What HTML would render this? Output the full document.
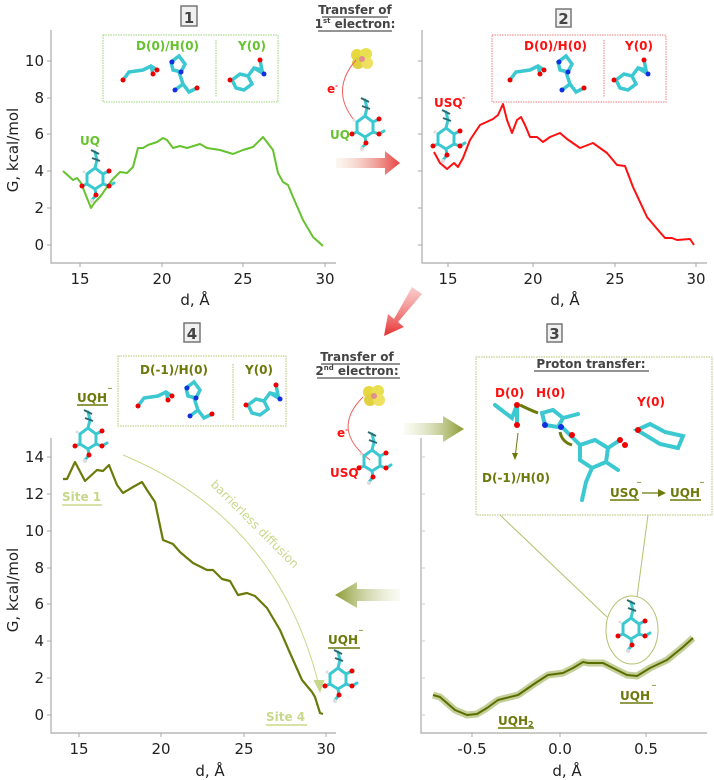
<!DOCTYPE html>
<html><head><meta charset="utf-8"><style>
html,body{margin:0;padding:0;background:#fff}
svg{display:block;font-family:"DejaVu Sans","Liberation Sans",sans-serif}
</style></head><body>
<svg width="714" height="780" viewBox="0 0 714 780" xmlns="http://www.w3.org/2000/svg">
<defs>
<linearGradient id="gr" x1="0" x2="1"><stop offset="0" stop-color="#f0e6d0" stop-opacity="0.3"/><stop offset="1" stop-color="#e84040"/></linearGradient>
<linearGradient id="gd" x1="0" y1="0" x2="0" y2="1"><stop offset="0" stop-color="#f08080" stop-opacity="0.4"/><stop offset="1" stop-color="#e83030"/></linearGradient>
<linearGradient id="gg" x1="0" x2="1"><stop offset="0" stop-color="#eef0d8" stop-opacity="0.3"/><stop offset="1" stop-color="#8a9a30"/></linearGradient>
<linearGradient id="gg2" x1="1" x2="0"><stop offset="0" stop-color="#eef0d8" stop-opacity="0.3"/><stop offset="1" stop-color="#8a9a30"/></linearGradient>
<g id="mol">
<g stroke="#3cc8d0" stroke-width="3" fill="none" stroke-linecap="round">
<path d="M0,-28 L2,-20 L0,-12 M-8,-6 L0,-12 L8,-6 L8,4 L0,9 L-8,4 Z M8,-6 L14,-9 M8,4 L14,6 L19,3 M0,9 L1,15 L-3,20 M-8,4 L-13,6"/>
</g>
<g stroke="#2a6a70" stroke-width="2"><path d="M-4,-30 L4,-26 M-3,-22 L5,-19"/></g>
<circle cx="-13" cy="6" r="2.5" fill="#e00"/><circle cx="14" cy="-9" r="2.5" fill="#e00"/><circle cx="14" cy="6" r="2.5" fill="#e00"/><circle cx="1" cy="15" r="2.5" fill="#e00"/>
<circle cx="-3" cy="21" r="2" fill="#ddd"/><circle cx="-11" cy="-8" r="1.5" fill="#ddd"/>
</g>
<g id="res">
<g stroke="#3cc8d0" stroke-width="3.5" fill="none" stroke-linecap="round">
<path d="M0,18 L6,10 L20,8 L28,4 L34,8 M28,4 L30,12"/>
<path d="M48,0 L56,-6 L62,2 L58,10 L50,8 Z M56,10 L60,22 L66,30 L74,26 M60,22 L52,28"/>
</g>
<circle cx="0" cy="18" r="2.5" fill="#e00"/><circle cx="34" cy="8" r="2.5" fill="#e00"/><circle cx="30" cy="12" r="2.5" fill="#e00"/>
<circle cx="49" cy="0" r="2.5" fill="#1030e0"/><circle cx="58" cy="10" r="2.5" fill="#1030e0"/><circle cx="52" cy="28" r="2.5" fill="#1030e0"/><circle cx="74" cy="26" r="2.5" fill="#e00"/>
</g>
<g id="tyr">
<g stroke="#3cc8d0" stroke-width="3.5" fill="none" stroke-linecap="round">
<path d="M0,12 L8,6 L16,8 L20,16 L12,22 L4,20 Z M16,8 L22,0 L30,2 L28,-8 M22,0 L32,6"/>
</g>
<circle cx="-2" cy="12" r="2.5" fill="#e00"/><circle cx="28" cy="-8" r="2.5" fill="#e00"/><circle cx="32" cy="6" r="2.5" fill="#1030e0"/>
</g>
<g id="fes"><circle cx="-4" cy="-3" r="6" fill="#e8d840"/><circle cx="5" cy="-4" r="6" fill="#e8e050"/><circle cx="-3" cy="5" r="6" fill="#e0d040"/><circle cx="6" cy="5" r="6" fill="#f0e060"/><circle cx="1" cy="1" r="3" fill="#e09090"/></g>
</defs>

<!-- ===== PANEL 1 ===== -->
<g stroke="#aaa" stroke-width="1.2" fill="none"><path d="M51,30 V263 H336"/></g>
<g stroke="#aaa" stroke-width="1"><path d="M47,61H51M47,98H51M47,134H51M47,171H51M47,208H51M47,245H51M80,263V267M162,263V267M243,263V267M325,263V267"/></g>
<g font-size="15" fill="#222" text-anchor="end"><text x="44" y="66">10</text><text x="44" y="103">8</text><text x="44" y="139">6</text><text x="44" y="176">4</text><text x="44" y="213">2</text><text x="44" y="250">0</text></g>
<g font-size="15" fill="#222" text-anchor="middle"><text x="80" y="284">15</text><text x="162" y="284">20</text><text x="243" y="284">25</text><text x="325" y="284">30</text><text x="195" y="305">d, Å</text></g>
<text transform="translate(18,150) rotate(-90)" font-size="15" fill="#222" text-anchor="middle">G, kcal/mol</text>
<path d="M63,171 L73,180 L77,178 L81,183 L91,208 L95,202 L100,197 L112,180 L120,172 L127,173 L133,167 L138,148 L143,148 L148,145 L157,142 L163,138 L167,140 L173,148 L180,146 L187,148 L200,144 L207,148 L220,150 L233,154 L243,150 L253,147 L263,137 L273,150 L278,173 L283,182 L288,185 L293,197 L303,220 L313,237 L323,246" fill="none" stroke="#66c22e" stroke-width="2" stroke-linejoin="round"/>
<rect x="103" y="35" width="175" height="67" fill="none" stroke="#9ad57a" stroke-dasharray="1.5,1"/>
<line x1="216" y1="40" x2="216" y2="97" stroke="#9ad57a" stroke-dasharray="1.5,1"/>
<g font-size="12" font-weight="bold" fill="#66c22e"><text x="136" y="50">D(0)/H(0)</text><text x="238" y="50">Y(0)</text><text x="80" y="145">UQ</text></g>
<use href="#res" x="123" y="62"/><use href="#tyr" x="232" y="68"/>
<use href="#mol" x="95" y="180"/>
<rect x="181" y="6" width="16" height="20" fill="#f0f0f0" stroke="#777" stroke-width="1.5"/>
<text x="189" y="23" font-size="15" font-weight="bold" fill="#444" text-anchor="middle">1</text>

<!-- ===== PANEL 2 ===== -->
<g stroke="#aaa" stroke-width="1.2" fill="none"><path d="M422,30 V263 H707"/></g>
<g stroke="#aaa" stroke-width="1"><path d="M418,61H422M418,98H422M418,134H422M418,171H422M418,208H422M418,245H422M448,263V267M533,263V267M615,263V267M696,263V267"/></g>
<g font-size="15" fill="#222" text-anchor="middle"><text x="448" y="284">15</text><text x="533" y="284">20</text><text x="615" y="284">25</text><text x="696" y="284">30</text><text x="565" y="305">d, Å</text></g>
<path d="M434,152 L440,163 L447,169 L454,163 L458,167 L463,158 L470,140 L480,125 L493,119 L498,115 L503,104 L507,120 L512,133 L517,120 L521,117 L525,125 L530,137 L537,137 L543,142 L550,137 L560,133 L567,139 L580,148 L593,143 L607,153 L617,165 L625,166 L633,187 L647,217 L658,230 L665,238 L672,238 L677,240 L690,239 L694,245" fill="none" stroke="#ff1010" stroke-width="2" stroke-linejoin="round"/>
<rect x="492" y="35" width="174" height="67" fill="none" stroke="#f08080" stroke-dasharray="1.5,1"/>
<line x1="604" y1="40" x2="604" y2="97" stroke="#f08080" stroke-dasharray="1.5,1"/>
<g font-size="12" font-weight="bold" fill="#ff1010"><text x="524" y="50">D(0)/H(0)</text><text x="625" y="50">Y(0)</text><text x="434" y="107">USQ</text><text x="462" y="100" font-size="8">-</text></g>
<use href="#res" x="510" y="62"/><use href="#tyr" x="616" y="68"/>
<use href="#mol" x="446" y="140"/>
<rect x="556" y="9" width="15" height="18" fill="#f0f0f0" stroke="#777" stroke-width="1.5"/>
<text x="563.5" y="24" font-size="15" font-weight="bold" fill="#444" text-anchor="middle">2</text>

<!-- ===== middle top ===== -->
<g font-size="12" font-weight="bold" fill="#444" text-anchor="middle"><text x="355" y="14">Transfer of</text><text x="355" y="28">1<tspan font-size="7" dy="-5">st</tspan><tspan dy="5"> electron:</tspan></text></g>
<line x1="322" y1="17" x2="388" y2="17" stroke="#555" stroke-width="1.2"/><line x1="318" y1="31" x2="392" y2="31" stroke="#555" stroke-width="1.2"/>
<use href="#fes" x="361" y="58"/>
<path d="M356,60 Q330,90 354,120" fill="none" stroke="#f06060" stroke-width="1"/>
<text x="327" y="93" font-size="12" font-weight="bold" fill="#ff1010">e<tspan font-size="7" dy="-5">-</tspan></text>
<use href="#mol" x="365" y="128"/>
<text x="330" y="139" font-size="12" font-weight="bold" fill="#66c22e">UQ</text>
<path d="M336,158 H385 V151 L400,163 L385,175 V168 H336 Z" fill="url(#gr)"/>
<path d="M412,287 L422,294 L398,322 L404,327 L384,336 L388,314 L394,319 Z" fill="url(#gd)"/>

<!-- ===== PANEL 4 ===== -->
<g stroke="#aaa" stroke-width="1.2" fill="none"><path d="M51,438 V733 H336"/></g>
<g stroke="#aaa" stroke-width="1"><path d="M47,457H51M47,494H51M47,531H51M47,568H51M47,604H51M47,641H51M47,678H51M47,715H51M79,733V737M161,733V737M244,733V737M326,733V737"/></g>
<g font-size="15" fill="#222" text-anchor="end"><text x="44" y="462">14</text><text x="44" y="499">12</text><text x="44" y="536">10</text><text x="44" y="573">8</text><text x="44" y="609">6</text><text x="44" y="646">4</text><text x="44" y="683">2</text><text x="44" y="720">0</text></g>
<g font-size="15" fill="#222" text-anchor="middle"><text x="79" y="754">15</text><text x="161" y="754">20</text><text x="244" y="754">25</text><text x="326" y="754">30</text><text x="210" y="776">d, Å</text></g>
<text transform="translate(18,590) rotate(-90)" font-size="15" fill="#222" text-anchor="middle">G, kcal/mol</text>
<path d="M123,455 Q280,520 320,690" fill="none" stroke="#c8d88a" stroke-width="1"/>
<path d="M314,680 L320,692 L324,680" fill="#c8d88a" stroke="#c8d88a"/>
<text transform="translate(210,485) rotate(45)" font-size="12" fill="#c8d88a">barrierless diffusion</text>
<path d="M63,479 L67,479 L75,462 L85,481 L97,470 L103,471 L109,465 L117,485 L123,493 L133,487 L142,482 L147,490 L155,502 L163,540 L173,544 L180,552 L193,563 L207,570 L213,570 L222,579 L230,581 L238,595 L247,593 L255,596 L267,608 L280,630 L290,653 L302,680 L312,692 L315,697 L320,713 L323,714" fill="none" stroke="#6b7a0a" stroke-width="2.2" stroke-linejoin="round"/>
<rect x="118" y="356" width="168" height="70" fill="none" stroke="#b8c070" stroke-dasharray="1.5,1"/>
<line x1="233" y1="364" x2="233" y2="420" stroke="#b8c070" stroke-dasharray="1.5,1"/>
<g font-size="12" font-weight="bold" fill="#6b7a0a"><text x="140" y="374">D(-1)/H(0)</text><text x="245" y="374">Y(0)</text>
<text x="77" y="402">UQH</text><text x="108" y="394" font-size="8">‾</text>
<text x="328" y="644">UQH</text><text x="359" y="636" font-size="8">‾</text></g>
<path d="M77,405H108M328,648H360" stroke="#6b7a0a" stroke-width="1.5"/>
<g font-size="12" font-weight="bold" fill="#c8d88a"><text x="62" y="501">Site 1</text><text x="266" y="721">Site 4</text></g>
<path d="M62,505H102M266,725H307" stroke="#c8d88a" stroke-width="1.5"/>
<use href="#res" x="138" y="388"/><use href="#tyr" x="248" y="393"/>
<use href="#mol" x="88" y="440"/><use href="#mol" x="338" y="680"/>
<rect x="184" y="323" width="16" height="19" fill="#f0f0f0" stroke="#777" stroke-width="1.5"/>
<text x="192" y="339" font-size="15" font-weight="bold" fill="#444" text-anchor="middle">4</text>

<!-- middle lower -->
<g font-size="12" font-weight="bold" fill="#444" text-anchor="middle"><text x="357" y="361">Transfer of</text><text x="357" y="375">2<tspan font-size="7" dy="-5">nd</tspan><tspan dy="5"> electron:</tspan></text></g>
<line x1="321" y1="364" x2="400" y2="364" stroke="#555" stroke-width="1.2"/><line x1="317" y1="378" x2="400" y2="378" stroke="#555" stroke-width="1.2"/>
<use href="#fes" x="373" y="395"/>
<path d="M363,397 Q330,430 370,460" fill="none" stroke="#f06060" stroke-width="1"/>
<text x="337" y="437" font-size="12" font-weight="bold" fill="#ff1010">e<tspan font-size="7" dy="-5">-</tspan></text>
<use href="#mol" x="372" y="462"/>
<text x="330" y="477" font-size="12" font-weight="bold" fill="#ff1010">USQ</text><text x="358" y="468" font-size="8" fill="#ff1010" font-weight="bold">-</text>
<path d="M404,423 H443 V416 L464,429 L443,442 V435 H404 Z" fill="url(#gg)"/>
<path d="M400,589 H357 V582 L335,595 L357,608 V601 H400 Z" fill="url(#gg2)"/>

<!-- ===== PANEL 3 ===== -->
<g stroke="#aaa" stroke-width="1.2" fill="none"><path d="M421,438 V733 H707"/></g>
<g stroke="#ccc" stroke-width="1"><path d="M421,457H425M421,494H425M421,531H425M421,568H425M421,604H425M421,641H425M421,678H425M421,715H425"/></g>
<g stroke="#aaa" stroke-width="1"><path d="M472,733V737M560,733V737M646,733V737"/></g>
<g font-size="15" fill="#222" text-anchor="middle"><text x="472" y="754">-0.5</text><text x="560" y="754">0.0</text><text x="646" y="754">0.5</text><text x="567" y="776">d, Å</text></g>
<path id="c3" d="M433,695 L440,697 L455,710 L467,715 L477,714 L487,708 L498,700 L518,695 L537,682 L548,675 L563,673 L573,668 L583,662 L588,663 L603,663 L613,668 L627,675 L637,676 L650,668 L667,660 L683,647 L693,638" fill="none" stroke="#c5cf9a" stroke-width="7" stroke-linejoin="round"/>
<path d="M433,695 L440,697 L455,710 L467,715 L477,714 L487,708 L498,700 L518,695 L537,682 L548,675 L563,673 L573,668 L583,662 L588,663 L603,663 L613,668 L627,675 L637,676 L650,668 L667,660 L683,647 L693,638" fill="none" stroke="#5a6e00" stroke-width="2" stroke-linejoin="round"/>
<path d="M500,515 L607,617 M648,515 L637,597" stroke="#b8c070" stroke-width="1"/>
<ellipse cx="632" cy="630" rx="26" ry="34" fill="#fff" stroke="#b8c070" stroke-width="1"/>
<use href="#mol" x="631" y="630"/>
<rect x="476" y="357" width="236" height="158" fill="#fff" stroke="#b8c070" stroke-dasharray="1.5,1"/>
<text x="591" y="368" font-size="12" font-weight="bold" fill="#444" text-anchor="middle">Proton transfer:</text>
<line x1="534" y1="371" x2="649" y2="371" stroke="#555" stroke-width="1.2"/>
<g font-size="12" font-weight="bold" fill="#ff1010"><text x="495" y="397">D(0)</text><text x="536" y="397">H(0)</text><text x="637" y="406">Y(0)</text></g>
<g stroke="#3cc8d0" stroke-width="4" fill="none" stroke-linecap="round">
<path d="M495,405 L512,418 L517,405 L517,425 M542,413 L553,410 L563,418 L558,427 L545,425 Z M563,418 L578,414 M560,425 L580,445 L595,440 L608,448 L606,462 L592,468 L580,460 L580,445 M606,462 L618,470 M592,468 L586,482 L582,500 M637,430 L650,424 L665,432 L683,436 L678,448 L660,444 Z M608,448 L620,440"/>
</g>
<circle cx="517" cy="425" r="3" fill="#e00"/><circle cx="517" cy="405" r="3" fill="#e00"/><circle cx="545" cy="425" r="3" fill="#1030e0"/><circle cx="561" cy="427" r="3" fill="#1030e0"/><circle cx="572" cy="435" r="3" fill="#e00"/><circle cx="620" cy="440" r="3" fill="#e00"/><circle cx="625" cy="445" r="3" fill="#e00"/><circle cx="638" cy="430" r="3" fill="#e00"/>
<path d="M520,405 Q530,410 538,413" stroke="#6b7a0a" stroke-width="3" fill="none"/>
<path d="M560,432 Q562,442 572,445" stroke="#6b7a0a" stroke-width="3" fill="none"/>
<path d="M518,433 L515,458" stroke="#6b7a0a" stroke-width="1"/><path d="M512,453 L515,460 L518,453" fill="#6b7a0a"/>
<g font-size="12" font-weight="bold" fill="#6b7a0a"><text x="482" y="482">D(-1)/H(0)</text><text x="610" y="497">USQ</text><text x="670" y="497">UQH</text><text x="637" y="488" font-size="8">‾</text><text x="700" y="488" font-size="8">‾</text>
<text x="620" y="700">UQH</text><text x="652" y="691" font-size="8">‾</text><text x="498" y="725">UQH<tspan font-size="8" dy="2">2</tspan></text></g>
<path d="M610,500H639M670,500H701M620,703H653M498,728H534" stroke="#6b7a0a" stroke-width="1.5"/>
<path d="M642,493 H660" stroke="#6b7a0a" stroke-width="1.2"/><path d="M658,489 L666,493 L658,497Z" fill="#6b7a0a"/>
<rect x="547" y="324" width="15" height="18" fill="#f0f0f0" stroke="#777" stroke-width="1.5"/>
<text x="554.5" y="339" font-size="15" font-weight="bold" fill="#444" text-anchor="middle">3</text>
</svg>
</body></html>
